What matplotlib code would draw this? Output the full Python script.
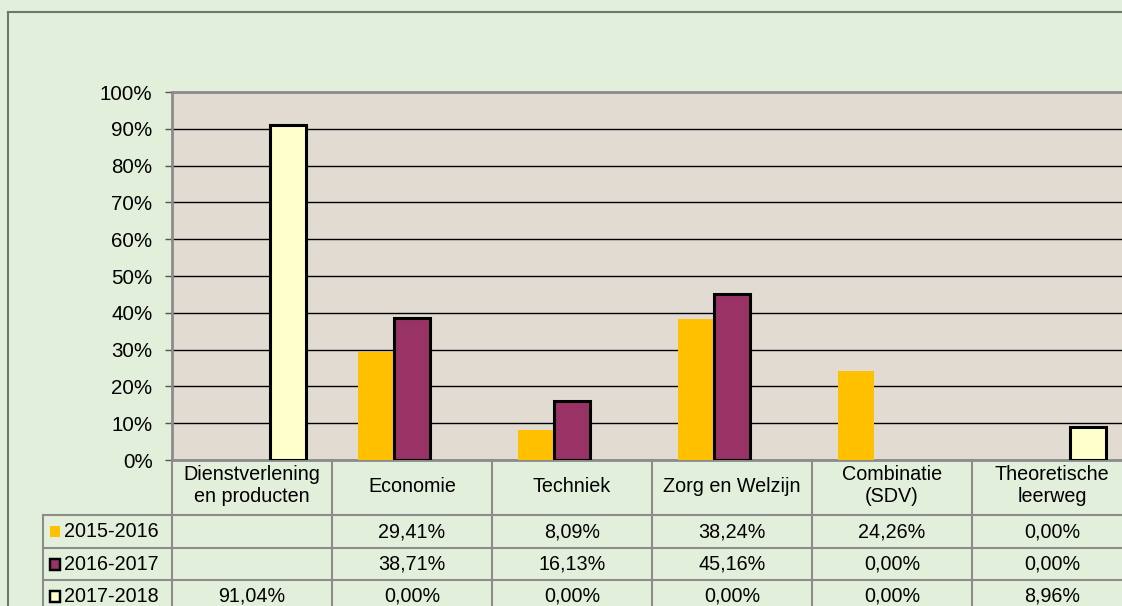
import matplotlib.pyplot as plt
import numpy as np
from matplotlib.lines import Line2D
from matplotlib.patches import Rectangle
from matplotlib.transforms import blended_transform_factory

plt.rcParams['font.family'] = ['Liberation Sans', 'DejaVu Sans']

# data
categories = ['Dienstverlening\nen producten', 'Economie', 'Techniek',
              'Zorg en Welzijn', 'Combinatie\n(SDV)', 'Theoretische\nleerweg']
years = ['2015-2016', '2016-2017', '2017-2018']
v_2015 = [np.nan, 29.41, 8.09, 38.24, 24.26, 0.00]
v_2016 = [np.nan, 38.71, 16.13, 45.16, 0.00, 0.00]
v_2017 = [91.04, 0.00, 0.00, 0.00, 0.00, 8.96]
series = [v_2015, v_2016, v_2017]

colors = ['#FFC000', '#993366', '#FFFFCC']
edges = ['#FFC000', 'black', 'black']
lws = [0, 2.2, 2.2]

W, H = 1122, 606
fig = plt.figure(figsize=(W / 100, H / 100), dpi=100)
fig.patch.set_facecolor('#E2EFDA')


def fx(px):
    return px / W


def fy(py):
    return 1 - py / H


# outer chart border
fig.add_artist(Line2D([fx(8), fx(8)], [fy(12), 0], color='#6E7A68', lw=1.5))
fig.add_artist(Line2D([fx(8), 1], [fy(12), fy(12)], color='#6E7A68', lw=1.5))

ax = fig.add_axes([fx(172), fy(460), fx(1132) - fx(172), fy(92) - fy(460)])
ax.set_facecolor('#E2DBD1')

x = np.arange(len(categories))
bw = 0.225
for i, vals in enumerate(series):
    v = np.array(vals, dtype=float)
    v[v == 0] = np.nan
    ax.bar(x + (i - 1) * bw, v, bw, color=colors[i], edgecolor=edges[i],
           linewidth=lws[i], zorder=3)

ax.set_xlim(-0.5, len(categories) - 0.5)
ax.set_ylim(0, 100)
ax.set_yticks(np.arange(0, 101, 10))
ax.set_yticklabels([f'{t}%' for t in range(0, 101, 10)], fontsize=14.8)
ax.yaxis.grid(True, color='black', lw=1)
ax.set_axisbelow(True)
ax.set_xticks([])
ax.tick_params(axis='y', length=5, width=1, color='#555555', pad=9)
for s in ax.spines.values():
    s.set_color('#8C8C8C')
    s.set_linewidth(2)

# data table below the plot
tc = '#8C8C8C'
fs = 14.2
row_y = [460, 515, 548, 580, 613]
lab_left = 43
trans = fig.transFigure
colx = blended_transform_factory(ax.transData, fig.transFigure)

for k in range(len(categories) + 1):
    fig.add_artist(Line2D([k - 0.5, k - 0.5], [fy(460), 0], color=tc, lw=1.5,
                          transform=colx))
for yy in row_y[1:4]:
    fig.add_artist(Line2D([fx(lab_left), 1], [fy(yy), fy(yy)], color=tc, lw=1.5))
fig.add_artist(Line2D([fx(lab_left), fx(lab_left)], [fy(515), 0], color=tc, lw=1.5))

for k, c in enumerate(categories):
    ax.text(k, fy(486), c, transform=colx, ha='center', va='center',
            fontsize=fs, linespacing=1.2)

for r, (name, vals) in enumerate(zip(years, series)):
    yc = fy((row_y[r + 1] + row_y[r + 2]) / 2)
    fig.add_artist(Rectangle((fx(50), yc - 5.5 / H), 10 / W, 11 / H,
                             facecolor=colors[r], edgecolor=edges[r],
                             lw=lws[r] * 0.8, transform=trans))
    fig.text(fx(64), yc, name, ha='left', va='center', fontsize=fs)
    for k, v in enumerate(vals):
        if np.isnan(v):
            continue
        ax.text(k, yc, f'{v:.2f}%'.replace('.', ','), transform=colx,
                ha='center', va='center', fontsize=fs)

fig.savefig('out.png', dpi=100, facecolor=fig.get_facecolor())
